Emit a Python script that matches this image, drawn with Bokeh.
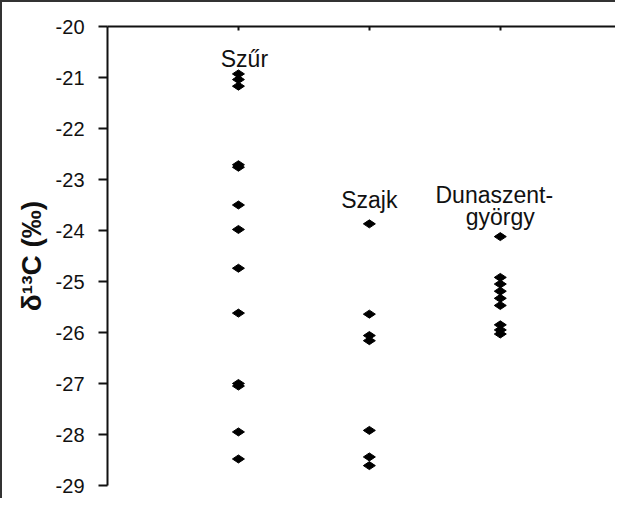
import math
from bokeh.plotting import figure
from bokeh.models import Range1d, FixedTicker, Label, ColumnDataSource
from bokeh.embed import file_html
from bokeh.resources import INLINE

# ---- data ----
categories = ["Szűr", "Szajk", "Dunaszent-\ngyörgy"]
szur = [-20.93, -21.04, -21.17, -22.71, -22.76, -23.50, -23.98, -24.74,
        -25.62, -27.00, -27.05, -27.95, -28.48]
szajk = [-23.87, -25.64, -26.06, -26.16, -27.92, -28.44, -28.61]
dunaszentgyorgy = [-24.12, -24.92, -25.05, -25.19, -25.33, -25.47,
                   -25.85, -25.95, -26.03]
series = [szur, szajk, dunaszentgyorgy]
y_ticks = [-20, -21, -22, -23, -24, -25, -26, -27, -28, -29]
y_tick_labels = ["-20", "-21", "-22", "-23", "-24", "-25", "-26", "-27", "-28", "-29"]
y_label = "δ¹³C (‰)"

# ---- style / layout ----
FONT = "Liberation Sans"
label_y = [-20.635, -23.41, -23.30]
label_dx = [6, 0, -6]
line_step = 22

xs, ys = [], []
for i, vals in enumerate(series):
    xs += [i + 1] * len(vals)
    ys += vals
src = ColumnDataSource(dict(x=xs, y=ys))

p = figure(width=615, height=498, output_backend="svg", toolbar_location=None,
           x_range=Range1d(0, 3.88), y_range=Range1d(-29, -20),
           x_axis_location="above", min_border_left=107, min_border_top=26,
           min_border_bottom=13, min_border_right=0)
p.styles = {"box-shadow": "inset 2px 2px 0 0 #333"}
p.outline_line_color = None
p.grid.visible = False
p.background_fill_color = "white"
p.border_fill_color = None

p.scatter("x", "y", source=src, marker="diamond", angle=math.pi / 2,
          size=12, color="black")

# top axis
xa = p.xaxis[0]
xa.ticker = FixedTicker(ticks=[1, 2, 3])
xa.major_label_overrides = {1: "", 2: "", 3: ""}
xa.major_tick_in = 4
xa.major_tick_out = 0
xa.minor_tick_line_color = None
xa.axis_line_width = 2
xa.major_tick_line_width = 2
xa.axis_line_color = "#111"
xa.major_tick_line_color = "#111"

# left axis
ya = p.yaxis[0]
ya.ticker = FixedTicker(ticks=y_ticks)
ya.major_label_overrides = {t: s for t, s in zip(y_ticks, y_tick_labels)}
ya.major_tick_in = 0
ya.major_tick_out = 9
ya.minor_tick_line_color = None
ya.axis_line_width = 2
ya.major_tick_line_width = 2
ya.axis_line_color = "#111"
ya.major_tick_line_color = "#111"
ya.major_label_text_font = FONT
ya.major_label_text_font_size = "20px"
ya.major_label_text_color = "#111"
ya.major_label_standoff = 14
ya.axis_label = y_label
ya.axis_label_text_font = FONT
ya.axis_label_text_font_style = "bold"
ya.axis_label_text_font_size = "28px"
ya.axis_label_text_color = "#111"
ya.axis_label_standoff = 6

for i, name in enumerate(categories):
    for j, line in enumerate(name.split("\n")):
        p.add_layout(Label(x=i + 1, y=label_y[i], text=line,
                           x_offset=label_dx[i] if j == 0 else 0,
                           y_offset=-j * line_step,
                           text_align="center", text_baseline="alphabetic",
                           text_font=FONT, text_font_size="23px",
                           text_color="#111"))

open("out.html", "w").write(file_html(p, INLINE))
